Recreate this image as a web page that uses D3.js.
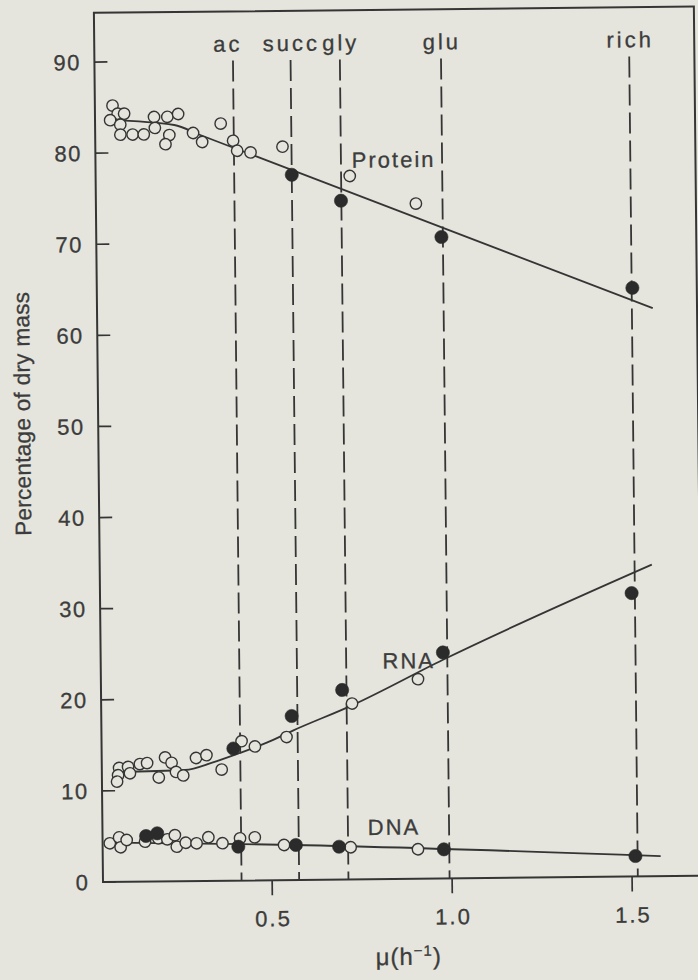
<!DOCTYPE html>
<html>
<head>
<meta charset="utf-8">
<script src="https://cdn.jsdelivr.net/npm/d3@7"></script>
<style>
  body { margin: 0; background: #e5e5dd; }
  svg { display: block; }
  text { font-family: "Liberation Sans", Arial, sans-serif; fill: #3c3c3c; stroke: #3c3c3c; stroke-width: 0.3px; }
</style>
</head>
<body>
<svg id="svg"></svg>
<script>
// growth media (dashed verticals) and their growth rates, h^-1
const media = ["ac", "succ", "gly", "glu", "rich"];
const mediaRate = [0.415, 0.575, 0.712, 0.993, 1.516];

const yTicks = [0, 10, 20, 30, 40, 50, 60, 70, 80, 90];
const xTicks = [0.5, 1.0, 1.5];

// [growth rate, % of dry mass]
const proteinOpen = [[0.079, 85.2], [0.093, 84.3], [0.111, 84.3], [0.072, 83.6], [0.100, 83.1],
  [0.100, 82.0], [0.134, 82.0], [0.165, 82.0], [0.194, 83.9], [0.196, 82.7], [0.231, 83.9],
  [0.261, 84.2], [0.236, 81.9], [0.225, 80.9], [0.302, 82.1], [0.327, 81.1], [0.379, 83.1],
  [0.413, 81.2], [0.424, 80.1], [0.461, 79.9], [0.550, 80.5], [0.736, 77.2], [0.919, 74.1]];
const proteinFilled = [[0.575, 77.4], [0.711, 74.5], [0.989, 70.4], [1.518, 64.6]];
const proteinFit = [[0.07, 83.6], [0.25, 83.0], [0.32, 81.9], [1.574, 62.35]];

const rnaOpen = [[0.078, 12.5], [0.103, 12.6], [0.108, 11.9], [0.075, 11.7], [0.072, 11.0],
  [0.136, 12.9], [0.156, 13.0], [0.188, 11.4], [0.206, 13.6], [0.224, 13.0], [0.236, 12.0],
  [0.256, 11.6], [0.292, 13.5], [0.321, 13.8], [0.363, 12.2], [0.419, 15.3], [0.456, 14.7],
  [0.544, 15.7], [0.727, 19.3], [0.911, 21.9]];
const rnaFilled = [[0.396, 14.5], [0.559, 18.0], [0.700, 20.8], [0.981, 24.8], [1.507, 31.1]];
const rnaFit = [[0.075, 12.05], [0.261, 12.2], [0.339, 13.0], [0.414, 14.0], [0.489, 15.1],
  [0.562, 16.4], [0.727, 19.1], [0.981, 24.0], [1.564, 34.2]];

const dnaOpen = [[0.050, 4.24], [0.076, 4.88], [0.080, 3.79], [0.097, 4.58], [0.148, 4.38],
  [0.185, 4.73], [0.210, 4.61], [0.231, 5.06], [0.236, 3.79], [0.261, 4.21], [0.291, 4.14],
  [0.324, 4.79], [0.363, 4.12], [0.412, 4.64], [0.453, 4.73], [0.534, 3.85], [0.719, 3.53],
  [0.906, 3.23]];
const dnaFilled = [[0.151, 5.0], [0.182, 5.28], [0.407, 3.72], [0.567, 3.84], [0.687, 3.6],
  [0.978, 3.19], [1.510, 2.24]];
const dnaFit = [[0.06, 4.3], [0.42, 4.0], [1.58, 2.2]];

// series labels: [name, growth rate, %]
const seriesLabels = [["Protein", 0.742, 78.1], ["RNA", 0.813, 23.1], ["DNA", 0.767, 4.85]];

const ink = "#353535";
const bg = "#e5e5dd";

const svg = d3.select("#svg").attr("width", 698).attr("height", 980);
svg.append("rect").attr("width", 698).attr("height", 980).attr("fill", bg);

const x = d3.scaleLinear().domain([0.03, 1.697]).range([103, 703]);
const y = d3.scaleLinear().domain([0, 90]).range([882, 62]);
const yTop = y(95.4);

// the scanned figure sits a little askew
const g = svg.append("g").attr("transform", "rotate(-0.6, 103, 882)");

// frame
g.append("rect")
  .attr("x", x(0.03)).attr("y", yTop)
  .attr("width", x(1.697) - x(0.03)).attr("height", y(0) - yTop)
  .attr("fill", "none").attr("stroke", ink).attr("stroke-width", 2);

// y ticks (inward) and labels
g.selectAll(".ytick").data(yTicks).enter().append("line")
  .attr("x1", x(0.03)).attr("x2", x(0.03) + 13)
  .attr("y1", d => y(d)).attr("y2", d => y(d))
  .attr("stroke", ink).attr("stroke-width", 1.7);
g.selectAll(".ylab").data(yTicks).enter().append("text")
  .attr("x", 89.5).attr("y", d => y(d)).attr("dy", "0.36em")
  .attr("text-anchor", "end").style("font-size", "22px").style("letter-spacing", "1.5px")
  .text(d => d);

// x ticks (outward) and labels
g.selectAll(".xtick").data(xTicks).enter().append("line")
  .attr("x1", d => x(d)).attr("x2", d => x(d))
  .attr("y1", y(0)).attr("y2", y(0) + 15)
  .attr("stroke", ink).attr("stroke-width", 1.7);
g.selectAll(".xlab").data(xTicks).enter().append("text")
  .attr("x", d => x(d) + 1).attr("y", 928)
  .attr("text-anchor", "middle").style("font-size", "22px").style("letter-spacing", "2px")
  .text(d => d.toFixed(1));

// axis titles
g.append("text")
  .attr("transform", "translate(35,413) rotate(-90)")
  .attr("text-anchor", "middle").style("font-size", "22.5px").style("letter-spacing", "0.3px")
  .text("Percentage of dry mass");
const xt = g.append("text")
  .attr("x", 408).attr("y", 968)
  .attr("text-anchor", "middle").style("font-size", "24px").style("letter-spacing", "1px");
xt.append("tspan").text("\u03bc(h");
xt.append("tspan").attr("dy", -9).style("font-size", "15px").text("\u22121");
xt.append("tspan").attr("dy", 9).text(")");

// dashed media lines and their labels
g.selectAll(".media").data(mediaRate).enter().append("line")
  .attr("x1", d => x(d)).attr("x2", d => x(d))
  .attr("y1", y(90)).attr("y2", y(0))
  .attr("stroke", ink).attr("stroke-width", 1.8)
  .attr("stroke-dasharray", "21,7");
g.selectAll(".mlab").data(media).enter().append("text")
  .attr("x", (d, i) => x(mediaRate[i]) + (i === 0 ? -5 : 1)).attr("y", y(91))
  .attr("text-anchor", "middle").style("font-size", "22px").style("letter-spacing", "3px")
  .text(d => d);

// fitted curves
const line = d3.line().x(d => x(d[0])).y(d => y(d[1])).curve(d3.curveMonotoneX);
[proteinFit, rnaFit, dnaFit].forEach(fit => {
  g.append("path").datum(fit).attr("d", line)
    .attr("fill", "none").attr("stroke", ink).attr("stroke-width", 1.8);
});

// points: open then filled
[proteinOpen, rnaOpen, dnaOpen].forEach(pts => {
  g.append("g").selectAll("circle").data(pts).enter().append("circle")
    .attr("cx", d => x(d[0])).attr("cy", d => y(d[1])).attr("r", 5.7)
    .attr("fill", bg).attr("stroke", ink).attr("stroke-width", 1.4);
});
[proteinFilled, rnaFilled, dnaFilled].forEach(pts => {
  g.append("g").selectAll("circle").data(pts).enter().append("circle")
    .attr("cx", d => x(d[0])).attr("cy", d => y(d[1])).attr("r", 6.6)
    .attr("fill", "#2b2b2b").attr("stroke", "#2b2b2b").attr("stroke-width", 0.6);
});

// series labels
g.selectAll(".slab").data(seriesLabels).enter().append("text")
  .attr("x", d => x(d[1])).attr("y", d => y(d[2]))
  .style("font-size", "22px").style("letter-spacing", "2px")
  .text(d => d[0]);
</script>
</body>
</html>
